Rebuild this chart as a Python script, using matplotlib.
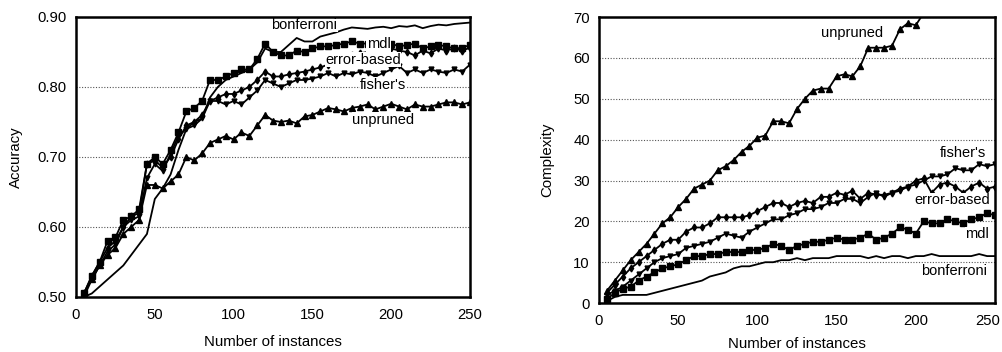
import numpy as np
import matplotlib
matplotlib.use("Agg")
import matplotlib.pyplot as plt
from matplotlib.transforms import ScaledTranslation

plt.rcParams['font.family'] = ['Liberation Sans', 'DejaVu Sans']

# number of instances (shared x values)
instances = list(range(5, 251, 5))

# --- accuracy panel ---
acc_bonferroni = [0.500, 0.505, 0.515, 0.525, 0.535, 0.545, 0.560, 0.575, 0.590, 0.640,
                  0.655, 0.675, 0.710, 0.740, 0.750, 0.755, 0.785, 0.800, 0.810, 0.815,
                  0.820, 0.825, 0.835, 0.855, 0.850, 0.850, 0.860, 0.870, 0.865, 0.865,
                  0.872, 0.875, 0.878, 0.882, 0.885, 0.884, 0.883, 0.885, 0.886, 0.884,
                  0.887, 0.886, 0.888, 0.884, 0.887, 0.889, 0.888, 0.890, 0.891, 0.892]
acc_mdl = [0.505, 0.530, 0.550, 0.580, 0.585, 0.610, 0.615, 0.625, 0.690, 0.700,
           0.690, 0.710, 0.735, 0.765, 0.770, 0.780, 0.810, 0.810, 0.815, 0.820,
           0.825, 0.825, 0.840, 0.862, 0.850, 0.845, 0.845, 0.852, 0.850, 0.855,
           0.858, 0.858, 0.860, 0.862, 0.865, 0.862, 0.862, 0.862, 0.860, 0.862,
           0.858, 0.860, 0.862, 0.855, 0.858, 0.860, 0.858, 0.855, 0.856, 0.860]
acc_error = [0.505, 0.530, 0.550, 0.570, 0.580, 0.600, 0.615, 0.620, 0.690, 0.695,
             0.685, 0.700, 0.725, 0.745, 0.750, 0.760, 0.780, 0.785, 0.790, 0.790,
             0.795, 0.800, 0.810, 0.822, 0.815, 0.815, 0.818, 0.820, 0.822, 0.825,
             0.828, 0.832, 0.838, 0.842, 0.845, 0.848, 0.850, 0.852, 0.855, 0.855,
             0.852, 0.850, 0.845, 0.852, 0.848, 0.855, 0.852, 0.855, 0.852, 0.856]
acc_fisher = [0.505, 0.525, 0.545, 0.565, 0.575, 0.600, 0.610, 0.615, 0.670, 0.690,
              0.680, 0.705, 0.730, 0.740, 0.745, 0.755, 0.780, 0.780, 0.775, 0.780,
              0.775, 0.785, 0.795, 0.810, 0.805, 0.800, 0.805, 0.810, 0.810, 0.812,
              0.815, 0.820, 0.815, 0.820, 0.818, 0.822, 0.820, 0.815, 0.820, 0.825,
              0.830, 0.820, 0.825, 0.820, 0.825, 0.822, 0.820, 0.825, 0.822, 0.832]
acc_unpruned = [0.500, 0.525, 0.545, 0.560, 0.570, 0.590, 0.600, 0.610, 0.660, 0.660,
                0.655, 0.665, 0.675, 0.700, 0.695, 0.705, 0.720, 0.725, 0.730, 0.725,
                0.735, 0.730, 0.745, 0.760, 0.752, 0.750, 0.752, 0.748, 0.758, 0.760,
                0.765, 0.770, 0.768, 0.765, 0.770, 0.772, 0.775, 0.768, 0.772, 0.776,
                0.772, 0.768, 0.775, 0.772, 0.772, 0.775, 0.778, 0.778, 0.775, 0.778]

# --- complexity panel ---
cx_bonferroni = [0.5, 1.5, 2, 2, 2, 2, 2.5, 3, 3.5, 4,
                 4.5, 5, 5.5, 6.5, 7, 7.5, 8.5, 9, 9, 9.5,
                 10, 10, 10.5, 10.5, 11, 10.5, 11, 11, 11, 11.5,
                 11.5, 11.5, 11.5, 11, 11.5, 11, 11.5, 11.5, 11, 11.5,
                 11.5, 12, 11.5, 11.5, 11.5, 11.5, 11.5, 12, 11.5, 11.5]
cx_mdl = [1, 2.5, 3.5, 4, 5.5, 6.5, 7.5, 8.5, 9, 9.5,
          10.5, 11.5, 11.5, 12, 12, 12.5, 12.5, 12.5, 13, 13,
          13.5, 14.5, 14, 13, 14, 14.5, 15, 15, 15.5, 16,
          15.5, 15.5, 16, 17, 15.5, 16, 17, 18.5, 18, 17,
          20, 19.5, 19.5, 20.5, 20, 19.5, 20.5, 21, 22, 21.5]
cx_error = [2.5, 4.5, 6.5, 8.5, 10, 11.5, 13, 14.5, 15.5, 15.5,
            17.5, 18.5, 18.5, 19.5, 21, 21, 21, 21, 21.5, 22.5,
            23.5, 24.5, 24.5, 23.5, 24.5, 25, 24.5, 26, 26, 27,
            26.5, 27.5, 25.5, 27, 26.5, 26.5, 27, 28, 28.5, 30,
            30.5, 27, 29, 29.5, 28.5, 27, 28.5, 29.5, 28, 28.5]
cx_fisher = [2, 3, 4, 5.5, 7, 8.5, 10, 11, 11.5, 12,
             13.5, 14, 14.5, 15, 16, 17, 16.5, 16, 17.5, 18.5,
             19.5, 20.5, 20.5, 21.5, 22, 23, 23, 23.5, 24.5, 24.5,
             25.5, 25.5, 24.5, 26, 27, 26, 27, 27.5, 28.5, 29,
             30, 31, 31, 31.5, 33, 32.5, 32.5, 34, 33.5, 34]
cx_unpruned = [3, 5.5, 8, 10.5, 12.5, 14.5, 17, 19.5, 21, 23.5,
               25.5, 28, 29, 30, 32.5, 33.5, 35, 37, 38.5, 40.5,
               41, 44.5, 44.5, 44, 47.5, 50, 52, 52.5, 52.5, 55.5,
               56, 55.5, 58, 62.5, 62.5, 62.5, 63, 67, 68.5, 68,
               71, np.nan, np.nan, np.nan, np.nan, np.nan, np.nan, np.nan, np.nan, np.nan]


def style_axes(ax, ylim, yticks, yfmt, ylabel, xlabelpad, ylabelpad):
    ax.set_xlim(0, 250)
    ax.set_ylim(*ylim)
    ax.set_xticks([0, 50, 100, 150, 200, 250])
    ax.set_yticks(yticks)
    ax.set_yticklabels([yfmt.format(v) for v in yticks])
    ax.tick_params(length=0, labelsize=10.7)
    ax.tick_params(axis='x', pad=8)
    ax.tick_params(axis='y', pad=6.5)
    for s in ax.spines.values():
        s.set_linewidth(1.8)
        s.set_zorder(6)
    ax.yaxis.grid(True, linestyle=(0, (1, 1.5)), color='#555555', linewidth=0.8)
    ax.set_axisbelow(True)
    ax.set_xlabel("Number of instances", fontsize=10.8, labelpad=xlabelpad)
    ax.set_ylabel(ylabel, fontsize=10.8, labelpad=ylabelpad)


def draw_series(ax, b, m, e, f, u):
    kw = dict(color='black', lw=1.3)
    ax.plot(instances, b, **kw)
    ax.plot(instances, m, marker='s', ms=4.5, **kw)
    ax.plot(instances, e, marker='d', ms=3.5, **kw)
    ax.plot(instances, f, marker='v', ms=3.5, **kw)
    ax.plot(instances, u, marker='^', ms=4, **kw)


fig = plt.figure(figsize=(10.03, 3.52), dpi=100)
ax1 = fig.add_axes([0.0758, 0.1563, 0.3928, 0.7955])
ax2 = fig.add_axes([0.5972, 0.1390, 0.3948, 0.8125])

draw_series(ax1, acc_bonferroni, acc_mdl, acc_error, acc_fisher, acc_unpruned)
style_axes(ax1, (0.5, 0.9), [0.5, 0.6, 0.7, 0.8, 0.9], "{:.2f}", "Accuracy", 9, 11)

lbl = dict(fontsize=10.5, ha='center', va='center', zorder=5,
           bbox=dict(facecolor='white', edgecolor='none', pad=0.3))
ax1.text(145, 0.889, "bonferroni", **lbl)
ax1.text(192, 0.861, "mdl", **lbl)
ax1.text(182, 0.839, "error-based", **lbl)
ax1.text(195, 0.803, "fisher's", **lbl)
ax1.text(195, 0.753, "unpruned", **lbl)

draw_series(ax2, cx_bonferroni, cx_mdl, cx_error, cx_fisher, cx_unpruned)
style_axes(ax2, (0, 70), [0, 10, 20, 30, 40, 50, 60, 70], "{:d}", "Complexity", 6, 14)

# last tick label of the right panel sits a little left so it stays on the page
last = ax2.get_xticklabels()[-1]
last.set_transform(last.get_transform() + ScaledTranslation(-5 / 72, 0, fig.dpi_scale_trans))

ax2.text(160, 66, "unpruned", **lbl)
ax2.text(230, 36.7, "fisher's", **lbl)
ax2.text(223, 25.2, "error-based", **lbl)
ax2.text(238.6, 16.9, "mdl", **lbl)
ax2.text(224, 7.8, "bonferroni", **lbl)

fig.savefig("out.png", dpi=100)
